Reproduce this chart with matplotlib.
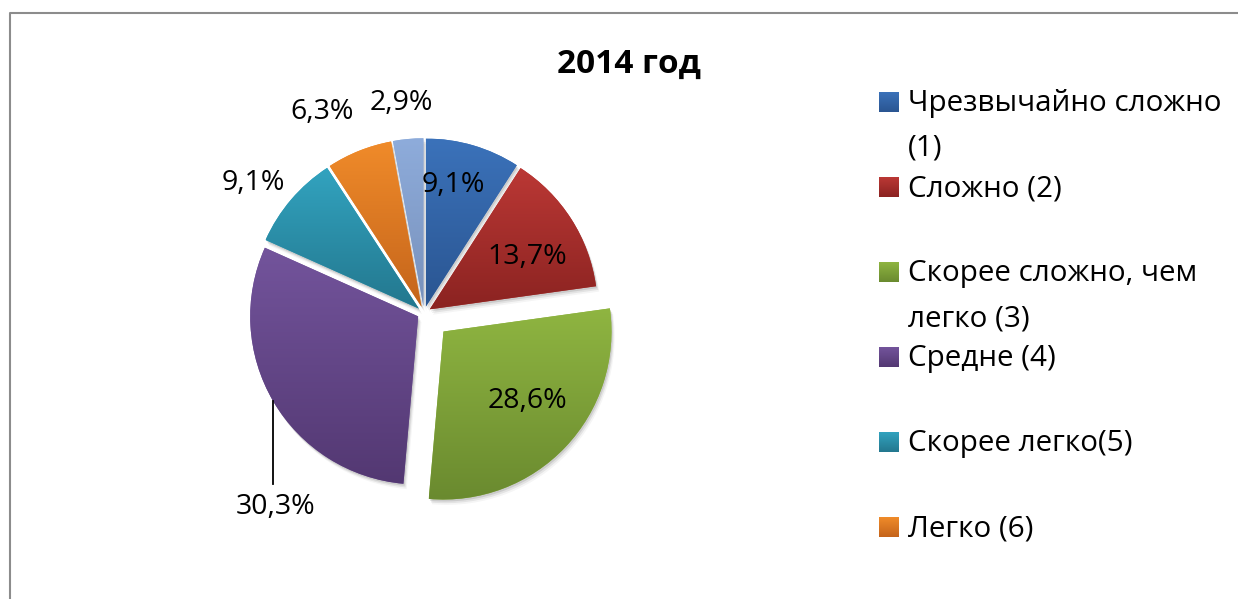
import numpy as np
import matplotlib
matplotlib.use("Agg")
import matplotlib.pyplot as plt
from matplotlib.patches import Wedge
from matplotlib.colors import LinearSegmentedColormap

plt.rcParams['font.family'] = ['Open Sans', 'DejaVu Sans']

title = '2014 год'
categories = ['Чрезвычайно сложно\n(1)', 'Сложно (2)', 'Скорее сложно, чем\nлегко (3)',
              'Средне (4)', 'Скорее легко(5)', 'Легко (6)', 'Очень легко (7)']
shares = [9.1, 13.7, 28.6, 30.3, 9.1, 6.3, 2.9]
legend_shown = 6  # the 7th entry is cut off by the chart frame

top_colors = ['#3b72ba', '#bb3835', '#8fb541', '#73549c', '#32a3bf', '#f08b2a', '#8eacdb']
bottom_colors = ['#2a5591', '#8b2321', '#6a8a2f', '#533872', '#23778e', '#c4641b', '#7891bb']
explode = [0.04, 0.04, 0.16, 0.04, 0.04, 0.04, 0.04]

# label placement: radius (in pie radii) and angle shift from wedge middle
label_r = [0.78, 0.70, 0.81, None, 1.28, 1.34, 1.26]
label_dt = [3.5, -4.3, 3.1, 0, 3.2, 5.1, 0.9]
leader_slice = 3

W, H = 1238, 599
CX, CY, R = 424, 313, 168
half = 1.3 * R

fig = plt.figure(figsize=(W / 100, H / 100), dpi=100)

# frame + title + legend drawn in pixel coordinates
lay = fig.add_axes([0, 0, 1, 1], zorder=0)
lay.axis('off')
lay.plot([9.5, 9.5, W + 5], [H + 5, 12.5, 12.5], color='#8c8c8c', lw=1.5, clip_on=False)
lay.text(629, 73, title, ha='center', va='baseline', fontsize=24, fontweight='bold')

grad = np.linspace(0, 1, 256)[:, None]
for i in range(legend_shown):
    yc = 102 + 85.1 * i
    cm = LinearSegmentedColormap.from_list('m%d' % i, [top_colors[i], bottom_colors[i]])
    lay.imshow(grad, cmap=cm, extent=(879, 899, yc + 10, yc - 10), origin='upper',
               aspect='auto', interpolation='bilinear')
    for j, line in enumerate(categories[i].split('\n')):
        lay.text(908, yc + 9 + 45 * j, line, ha='left', va='baseline', fontsize=21.3,
                 fontweight='medium')
lay.set_xlim(0, W)
lay.set_ylim(H, 0)
lay.set_aspect('auto')

# pie
ax = fig.add_axes([(CX - half) / W, (H - CY - half) / H, 2 * half / W, 2 * half / H], zorder=1)
wedges, _ = ax.pie(shares, colors=top_colors, startangle=90, counterclock=False,
                   explode=explode, radius=1, wedgeprops=dict(linewidth=0))

for k, w in enumerate(wedges):
    # soft shadow to the lower right
    for s, a in [(0.012, 0.10), (0.022, 0.07), (0.032, 0.04)]:
        ax.add_patch(Wedge((w.center[0] + s * 0.6, w.center[1] - s), w.r, w.theta1, w.theta2,
                           color='#000000', alpha=a, lw=0, zorder=0.5))
    ext = w.get_path().get_extents()
    cm = LinearSegmentedColormap.from_list('g%d' % k, [top_colors[k], bottom_colors[k]])
    im = ax.imshow(grad, cmap=cm, extent=(ext.x0, ext.x1, ext.y0, ext.y1), origin='upper',
                   aspect='auto', interpolation='bilinear', zorder=2)
    im.set_clip_path(w)

    mid = np.deg2rad((w.theta1 + w.theta2) / 2)
    txt = f'{shares[k]:.1f}%'.replace('.', ',')
    if k == leader_slice:
        x0 = 1.04 * np.cos(mid)
        y0 = 1.04 * np.sin(mid)
        ax.plot([x0, x0], [y0, -1.015], color='black', lw=1.3, zorder=3)
        ax.text(x0 + 0.01, -1.155, txt, ha='center', va='center', fontsize=20.5,
                fontweight='medium', zorder=4)
    else:
        ang = mid + np.deg2rad(label_dt[k])
        ax.text(label_r[k] * np.cos(ang), label_r[k] * np.sin(ang), txt,
                ha='center', va='center', fontsize=20.5, fontweight='medium', zorder=4)

ax.set_xlim(-1.3, 1.3)
ax.set_ylim(-1.3, 1.3)
ax.set_aspect('auto')
ax.axis('off')

fig.savefig('out.png', dpi=100)
